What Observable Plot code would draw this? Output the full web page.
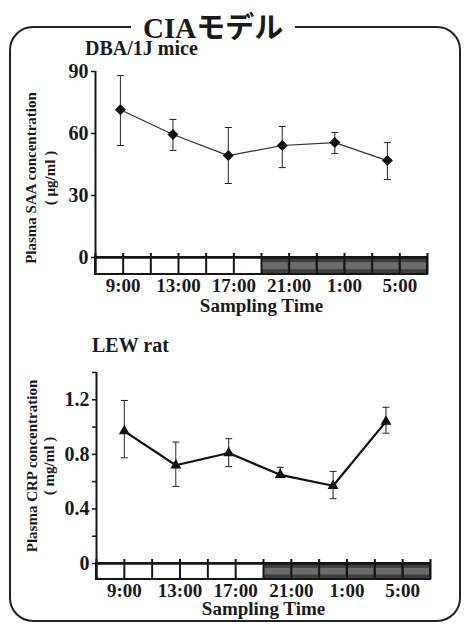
<!DOCTYPE html>
<html><head><meta charset="utf-8">
<script src="https://cdn.jsdelivr.net/npm/d3@7"></script>
<script src="https://cdn.jsdelivr.net/npm/@observablehq/plot@0.6"></script>
<style>
html,body{margin:0;padding:0;background:#fff;}
#page{position:relative;width:465px;height:626px;overflow:hidden;background:#fff;font-family:"Liberation Serif","Times New Roman",serif;color:#1a1a1a;}
#frame{position:absolute;left:9px;top:26px;width:452px;height:596px;box-sizing:border-box;border:2px solid #222;border-radius:24px;}
#title{position:absolute;left:131px;top:12px;height:26px;line-height:26px;padding:0 12px;background:#fff;font-weight:bold;font-size:29px;white-space:nowrap;}
.sub{position:absolute;font-weight:bold;font-size:20px;line-height:20px;white-space:nowrap;}
.chart{position:absolute;left:0;width:465px;}
</style></head>
<body><div id="page">
<div id="frame"></div>
<div class="chart" id="c1" style="top:40px"></div>
<div class="chart" id="c2" style="top:340px"></div>
<div id="title"><span>CIA</span><span style="font-family:'Noto Sans CJK JP';">モデル</span></div>
<div class="sub" style="left:85px;top:38px">DBA/1J mice</div>
<div class="sub" style="left:92px;top:335px">LEW rat</div>
</div>
<script>
// ---- shared time strip (hours; 25 = 1:00 next day) ----
const timeEdges = [7, 9, 11, 13, 15, 17, 19, 21, 23, 25, 27, 29, 31];
const cellPhase = ["light","light","light","light","light","light","dark","dark","dark","dark","dark","dark"];
const tickHours = [9, 13, 17, 21, 25, 29];
const tickLabels = ["9:00", "13:00", "17:00", "21:00", "1:00", "5:00"];
const xLabel = "Sampling Time";

// ---- DBA/1J mice: Plasma SAA (μg/ml) ----
const saaHour = [8.8, 12.6, 16.6, 20.5, 24.3, 28.1];
const saaMean = [71.5, 59.5, 49.3, 54.2, 55.6, 46.9];
const saaHigh = [88.0, 66.8, 62.9, 63.4, 60.5, 55.6];
const saaLow  = [54.2, 51.8, 35.8, 43.5, 50.3, 37.7];
const saaTicks = [0, 30, 60, 90];
const saaMinorTicks = [];

// ---- LEW rat: Plasma CRP (mg/ml) ----
const crpHour = [9.0, 12.7, 16.5, 20.2, 24.0, 27.8];
const crpMean = [0.97, 0.72, 0.81, 0.65, 0.57, 1.04];
const crpHigh = [1.195, 0.89, 0.915, 0.705, 0.675, 1.145];
const crpLow  = [0.775, 0.565, 0.71, 0.63, 0.475, 0.955];
const crpTicks = [0, 0.4, 0.8, 1.2];
const crpMinorTicks = [0.2, 0.6, 1.0, 1.4];

const labelMap = new Map(tickHours.map((h, i) => [h, tickLabels[i]]));

const diamond = {draw(ctx, size) { const r = Math.sqrt(size / Math.PI);
  ctx.moveTo(0, -r); ctx.lineTo(r, 0); ctx.lineTo(0, r); ctx.lineTo(-r, 0); ctx.closePath(); }};
const triangle = {draw(ctx, size) { const r = Math.sqrt(size / Math.PI); const h = r * 1.73;
  ctx.moveTo(0, -2 * h / 3); ctx.lineTo(r, h / 3); ctx.lineTo(-r, h / 3); ctx.closePath(); }};
const cap = {draw(ctx, size) { const r = Math.sqrt(size / Math.PI);
  ctx.moveTo(-r, 0); ctx.lineTo(r, 0); }};

function chart(o) {
  const rows = o.hours.map((h, i) => ({h, m: o.mean[i], hi: o.high[i], lo: o.low[i]}));
  const cells = cellPhase.map((p, i) => ({x1: timeEdges[i], x2: timeEdges[i + 1], p}));
  const innerH = o.height - o.mT - o.mB;
  const depth = o.stripPx * o.yMax / (innerH - o.stripPx);
  const unit = depth / o.stripPx;
  const ink = "#151515";
  return Plot.plot({
    width: 465, height: o.height,
    marginLeft: o.mL, marginRight: o.mR, marginTop: o.mT, marginBottom: o.mB,
    x: {domain: [7, 31]},
    y: {domain: [-depth, o.yMax]},
    style: {fontFamily: '"Liberation Serif", "Times New Roman", serif', fontSize: "19px", fontWeight: "bold", color: "#1a1a1a", background: "transparent", overflow: "visible"},
    marks: [
      Plot.rect(cells, {x1: "x1", x2: "x2", y1: 0, y2: -depth, fill: d => d.p === "dark" ? "#3e3e3e" : "#ffffff"}),
      Plot.rect(cells.filter(d => d.p === "dark"), {x1: "x1", x2: "x2", y1: -depth * 0.3, y2: -depth * 0.72, fill: "#6c6c6c", insetLeft: 1, insetRight: 1}),
      Plot.rect([0], {x1: 7, x2: 31, y1: 0, y2: -depth, stroke: ink, strokeWidth: 2, fill: "none"}),
      Plot.ruleX(timeEdges, {y1: -depth, y2: 4 * unit, stroke: ink, strokeWidth: 2}),
      Plot.ruleY([0], {x1: 7, x2: 31, stroke: ink, strokeWidth: 2.5}),
      Plot.ruleX([7], {y1: -depth, y2: o.yMax, stroke: ink, strokeWidth: 2}),
      Plot.axisY({ticks: o.yTicks, tickSize: 4, tickPadding: o.tickPadding, label: null, strokeWidth: 1.5, fontSize: 20, tickFormat: d => String(d)}),
      ...(o.yMinor.length ? [Plot.axisY({ticks: o.yMinor, tickSize: 4, tickFormat: () => "", label: null, strokeWidth: 1.5})] : []),
      Plot.axisX({ticks: tickHours, tickFormat: d => labelMap.get(d), tickSize: 0, tickPadding: 4, label: null, fontSize: 19}),
      Plot.text([xLabel], {text: d => d, frameAnchor: "bottom", lineAnchor: "middle", dy: o.xLabelDy, fontSize: 19, fontWeight: "bold"}),
      Plot.text([o.yLabel1], {text: d => d, frameAnchor: "left", textAnchor: "middle", rotate: -90, dx: o.yl1dx, dy: o.ylDy, fontSize: 15, fontWeight: "bold"}),
      Plot.text([o.yLabel2], {text: d => d, frameAnchor: "left", textAnchor: "middle", rotate: -90, dx: o.yl2dx, dy: o.ylDy, fontSize: 15, fontWeight: "bold"}),
      Plot.ruleX(rows, {x: "h", y1: "lo", y2: "hi", stroke: "#222", strokeWidth: 1}),
      Plot.dot(rows, {x: "h", y: "lo", symbol: cap, r: 3.5, stroke: "#222", strokeWidth: 1, fill: "none"}),
      Plot.dot(rows, {x: "h", y: "hi", symbol: cap, r: 3.5, stroke: "#222", strokeWidth: 1, fill: "none"}),
      Plot.line(rows, {x: "h", y: "m", stroke: o.lineColor, strokeWidth: o.lineWidth}),
      Plot.dot(rows, {x: "h", y: "m", symbol: o.symbol, r: o.r, fill: "#111", stroke: "none"})
    ]
  });
}

document.getElementById("c1").append(chart({
  hours: saaHour, mean: saaMean, high: saaHigh, low: saaLow,
  yTicks: saaTicks, yMinor: saaMinorTicks, yMax: 90,
  height: 290, mL: 95, mR: 38, mT: 31, mB: 56, stripPx: 17,
  tickPadding: 3, xLabelDy: 31,
  yLabel1: "Plasma SAA concentration", yLabel2: "( μg/ml )", yl1dx: -64, yl2dx: -45, ylDy: 5,
  symbol: diamond, r: 5.5, lineColor: "#333", lineWidth: 1.2
}));

document.getElementById("c2").append(chart({
  hours: crpHour, mean: crpMean, high: crpHigh, low: crpLow,
  yTicks: crpTicks, yMinor: crpMinorTicks, yMax: 1.4,
  height: 286, mL: 96, mR: 35, mT: 32, mB: 47, stripPx: 16,
  tickPadding: 3, xLabelDy: 29,
  yLabel1: "Plasma CRP concentration", yLabel2: "( mg/ml )", yl1dx: -64, yl2dx: -47, ylDy: -10,
  symbol: triangle, r: 5.5, lineColor: "#111", lineWidth: 2.2
}));
</script>
</body></html>
